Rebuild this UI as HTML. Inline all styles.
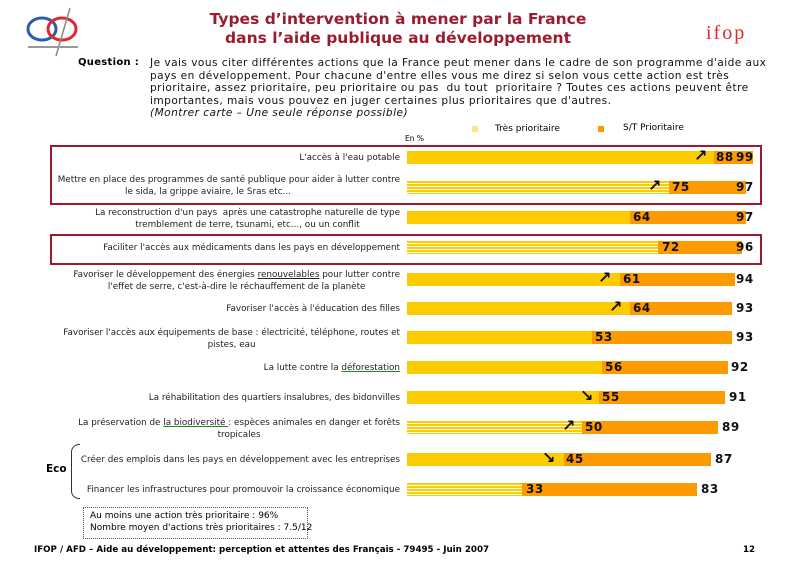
<!DOCTYPE html>
<html><head><meta charset="utf-8"><style>
body{margin:0;width:798px;height:563px;background:#fff;position:relative;overflow:hidden;font-family:"DejaVu Sans","Liberation Sans",sans-serif;}
.a{position:absolute}
.t{position:absolute;color:#9b1b30;font-weight:bold;font-size:15.5px;text-align:center;width:460px;left:168px;line-height:19px}
.lab{position:absolute;right:398px;font-size:8.8px;color:#222;text-align:right;line-height:12px;white-space:nowrap}
.y{position:absolute;left:407px;height:13px;background:#fccc00}
.s{background:repeating-linear-gradient(#fccc00 0 2px,#fff 2px 3px)}
.o{position:absolute;height:13px;background:#fd9a00}
.v{position:absolute;font-size:12px;font-weight:bold;color:#111;line-height:13px;letter-spacing:0.5px}
.ar{position:absolute;font-size:16px;font-weight:bold;color:#111;line-height:14px}
.box{position:absolute;border:2px solid #9b1b30}
</style></head><body>
<svg class="a" style="left:26px;top:6px" width="56" height="52"><ellipse cx="16" cy="23" rx="14" ry="11" fill="none" stroke="#2a5db0" stroke-width="3"/><ellipse cx="36" cy="23" rx="14" ry="11" fill="none" stroke="#e0282e" stroke-width="3"/><path d="M44 2 L30 50" stroke="#888" stroke-width="1.5"/><rect x="2" y="40" width="50" height="2" fill="#999"/></svg>
<div class="t" style="top:10px">Types d’intervention à mener par la France<br>dans l’aide publique au développement</div>
<div class="a" style="left:706px;top:22px;color:#e0282e;font-size:20px;font-family:'Liberation Serif',serif;letter-spacing:2px">ifop</div>
<div class="a" style="left:78px;top:57px;font-size:10px;font-weight:bold;letter-spacing:0.3px">Question :</div>
<div class="a" style="left:150px;top:57px;font-size:10.6px;letter-spacing:0.45px;line-height:12.5px;width:640px;color:#111;white-space:nowrap">Je vais vous citer différentes actions que la France peut mener dans le cadre de son programme d'aide aux<br>pays en développement. Pour chacune d'entre elles vous me direz si selon vous cette action est très<br>prioritaire, assez prioritaire, peu prioritaire ou pas&nbsp; du tout&nbsp; prioritaire ? Toutes ces actions peuvent être<br>importantes, mais vous pouvez en juger certaines plus prioritaires que d'autres.<br><i>(Montrer carte – Une seule réponse possible)</i></div>
<div class="a" style="left:405px;top:134px;font-size:7.5px">En %</div>
<div class="a" style="left:472px;top:126px;width:6px;height:6px;background:#fde58a"></div>
<div class="a" style="left:495px;top:124px;font-size:9px">Très prioritaire</div>
<div class="a" style="left:598px;top:126px;width:6px;height:6px;background:#fd9a00"></div>
<div class="a" style="left:623px;top:123px;font-size:9px">S/T Prioritaire</div>
<div class="box" style="left:50px;top:145px;width:708px;height:56px"></div>
<div class="box" style="left:50px;top:234px;width:708px;height:27px"></div>

<div class="lab" style="top:152px">L'accès à l'eau potable</div>
<div class="o" style="left:407px;top:151px;width:346px"></div><div class="y" style="top:151px;width:307px"></div>
<div class="ar" style="left:694px;top:149px">↗</div><div class="v" style="left:716px;top:151px">88</div><div class="v" style="left:736px;top:151px">99</div>

<div class="lab" style="top:174px">Mettre en place des programmes de santé publique pour aider à lutter contre<br>le sida, la grippe aviaire, le Sras etc...&nbsp;&nbsp;&nbsp;&nbsp;&nbsp;&nbsp;&nbsp;&nbsp;&nbsp;&nbsp;&nbsp;&nbsp;&nbsp;&nbsp;&nbsp;&nbsp;&nbsp;&nbsp;&nbsp;&nbsp;&nbsp;&nbsp;&nbsp;&nbsp;&nbsp;&nbsp;&nbsp;&nbsp;&nbsp;&nbsp;&nbsp;&nbsp;&nbsp;&nbsp;&nbsp;&nbsp;&nbsp;&nbsp;&nbsp;</div>
<div class="o" style="left:407px;top:181px;width:339px"></div><div class="y s" style="top:181px;width:262px"></div>
<div class="ar" style="left:648px;top:179px">↗</div><div class="v" style="left:672px;top:181px">75</div><div class="v" style="left:736px;top:181px">97</div>

<div class="lab" style="top:207px;text-align:center">La reconstruction d'un pays&nbsp; après une catastrophe naturelle de type<br>tremblement de terre, tsunami, etc..., ou un conflit</div>
<div class="o" style="left:407px;top:211px;width:339px"></div><div class="y" style="top:211px;width:223px"></div>
<div class="v" style="left:633px;top:211px">64</div><div class="v" style="left:736px;top:211px">97</div>

<div class="lab" style="top:242px">Faciliter l'accès aux médicaments dans les pays en développement</div>
<div class="o" style="left:407px;top:241px;width:335px"></div><div class="y s" style="top:241px;width:251px"></div>
<div class="v" style="left:662px;top:241px">72</div><div class="v" style="left:736px;top:241px">96</div>

<div class="lab" style="top:269px;text-align:center">Favoriser le développement des énergies <u>renouvelables</u> pour lutter contre<br>l'effet de serre, c'est-à-dire le réchauffement de la planète</div>
<div class="o" style="left:407px;top:273px;width:328px"></div><div class="y" style="top:273px;width:213px"></div>
<div class="ar" style="left:598px;top:271px">↗</div><div class="v" style="left:623px;top:273px">61</div><div class="v" style="left:736px;top:273px">94</div>

<div class="lab" style="top:303px">Favoriser l'accès à l'éducation des filles</div>
<div class="o" style="left:407px;top:302px;width:325px"></div><div class="y" style="top:302px;width:223px"></div>
<div class="ar" style="left:609px;top:300px">↗</div><div class="v" style="left:633px;top:302px">64</div><div class="v" style="left:736px;top:302px">93</div>

<div class="lab" style="top:327px;text-align:center">Favoriser l'accès aux équipements de base : électricité, téléphone, routes et<br>pistes, eau</div>
<div class="o" style="left:407px;top:331px;width:325px"></div><div class="y" style="top:331px;width:185px"></div>
<div class="v" style="left:595px;top:331px">53</div><div class="v" style="left:736px;top:331px">93</div>

<div class="lab" style="top:362px">La lutte contre la <u style="text-decoration-color:#1a8a1a">déforestation</u></div>
<div class="o" style="left:407px;top:361px;width:321px"></div><div class="y" style="top:361px;width:195px"></div>
<div class="v" style="left:605px;top:361px">56</div><div class="v" style="left:731px;top:361px">92</div>

<div class="lab" style="top:392px">La réhabilitation des quartiers insalubres, des bidonvilles</div>
<div class="o" style="left:407px;top:391px;width:318px"></div><div class="y" style="top:391px;width:192px"></div>
<div class="ar" style="left:580px;top:389px">↘</div><div class="v" style="left:602px;top:391px">55</div><div class="v" style="left:729px;top:391px">91</div>

<div class="lab" style="top:417px;text-align:center">La préservation de <u style="text-decoration-color:#1a8a1a">la biodiversité </u>: espèces animales en danger et forêts<br>tropicales</div>
<div class="o" style="left:407px;top:421px;width:311px"></div><div class="y s" style="top:421px;width:175px"></div>
<div class="ar" style="left:562px;top:419px">↗</div><div class="v" style="left:585px;top:421px">50</div><div class="v" style="left:722px;top:421px">89</div>

<div class="lab" style="top:454px">Créer des emplois dans les pays en développement avec les entreprises</div>
<div class="o" style="left:407px;top:453px;width:304px"></div><div class="y" style="top:453px;width:157px"></div>
<div class="ar" style="left:542px;top:451px">↘</div><div class="v" style="left:566px;top:453px">45</div><div class="v" style="left:715px;top:453px">87</div>

<div class="lab" style="top:484px">Financer les infrastructures pour promouvoir la croissance économique</div>
<div class="o" style="left:407px;top:483px;width:290px"></div><div class="y s" style="top:483px;width:115px"></div>
<div class="v" style="left:526px;top:483px">33</div><div class="v" style="left:701px;top:483px">83</div>

<div class="a" style="left:46px;top:463px;font-size:10.5px;font-weight:bold">Eco</div>
<div class="a" style="left:71px;top:444px;width:8px;height:53px;border:1px solid #333;border-right:none;border-radius:8px 0 0 8px"></div>
<div class="a" style="left:83px;top:507px;width:223px;height:30px;border:1px dotted #555"></div>
<div class="a" style="left:90px;top:510px;font-size:9px;line-height:12px">Au moins une action très prioritaire : 96%<br>Nombre moyen d'actions très prioritaires : 7.5/12</div>
<div class="a" style="left:34px;top:545px;font-size:8.7px;font-weight:bold">IFOP / AFD – Aide au développement: perception et attentes des Français - 79495 - Juin 2007</div>
<div class="a" style="left:743px;top:545px;font-size:8.7px;font-weight:bold">12</div>
</body></html>
